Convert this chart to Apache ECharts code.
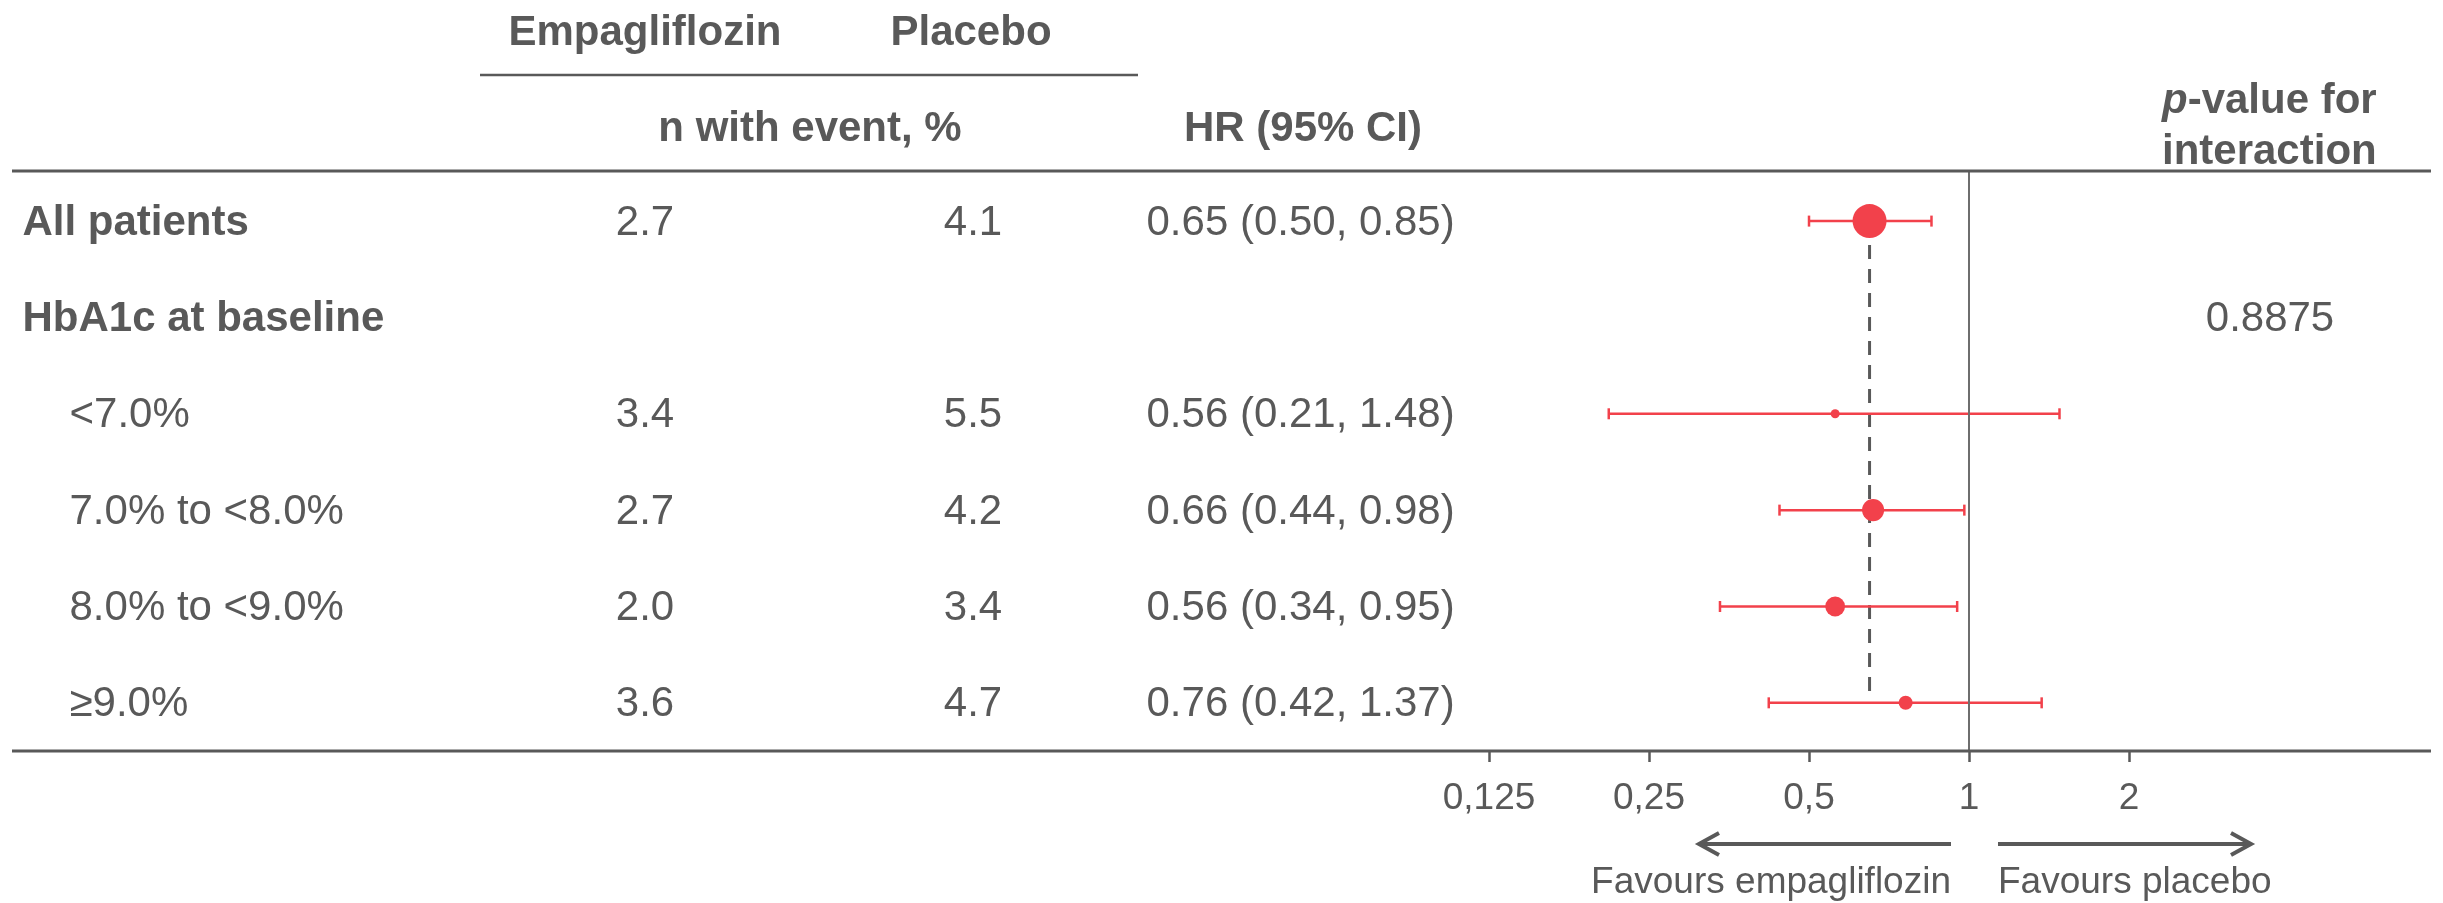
<!DOCTYPE html>
<html>
<head>
<meta charset="utf-8">
<script src="https://cdn.jsdelivr.net/npm/echarts@6/dist/echarts.min.js"></script>
<style>
html,body{margin:0;padding:0;background:#ffffff;}
#c{width:2443px;height:903px;}
</style>
</head>
<body>
<div id="c"></div>
<script>
// ---------------- data ----------------
const rowLabels   = ['All patients', 'HbA1c at baseline', '<7.0%', '7.0% to <8.0%', '8.0% to <9.0%', '\u22659.0%'];
const rowLevel    = [0, 0, 1, 1, 1, 1];          // 0 = heading row, 1 = subgroup row
const empaPct     = [2.7, null, 3.4, 2.7, 2.0, 3.6];
const placeboPct  = [4.1, null, 5.5, 4.2, 3.4, 4.7];
const hr          = [0.65, null, 0.56, 0.66, 0.56, 0.76];
const ciLow       = [0.50, null, 0.21, 0.44, 0.34, 0.42];
const ciHigh      = [0.85, null, 1.48, 0.98, 0.95, 1.37];
const weightPct   = [100, null, 7, 42, 34, 17];   // relative weight (marker area)
const pInteraction = [null, '0.8875', null, null, null, null];
const tickValues  = [0.125, 0.25, 0.5, 1, 2];
const tickLabels  = ['0,125', '0,25', '0,5', '1', '2'];

// ---------------- styles ----------------
const FONT = '"Liberation Sans", Arial, Helvetica, sans-serif';
const GRAY = '#595959';
const RED = '#F2414B';
const TOP = 171;
const PLOT_H = 580;
const Y_MIN = -0.52, Y_MAX = 5.5;
const MAX_MARKER = 34;

const chart = echarts.init(document.getElementById('c'), null, {renderer: 'canvas'});

const rows = rowLabels.map((t, i) => i);
const textCols = [
  {x: 22,   align: 'left',   bold: true,  items: rows.filter(i => rowLevel[i] === 0).map(i => [i, rowLabels[i]])},
  {x: 69,   align: 'left',   bold: false, items: rows.filter(i => rowLevel[i] === 1).map(i => [i, rowLabels[i]])},
  {x: 645,  align: 'center', bold: false, items: rows.filter(i => empaPct[i] != null).map(i => [i, empaPct[i].toFixed(1)])},
  {x: 973,  align: 'center', bold: false, items: rows.filter(i => placeboPct[i] != null).map(i => [i, placeboPct[i].toFixed(1)])},
  {x: 1146, align: 'left',   bold: false, items: rows.filter(i => hr[i] != null).map(i => [i, hr[i].toFixed(2) + ' (' + ciLow[i].toFixed(2) + ', ' + ciHigh[i].toFixed(2) + ')'])},
  {x: 2270, align: 'center', bold: false, items: rows.filter(i => pInteraction[i] != null).map(i => [i, pInteraction[i]])}
];

const grids = [{left: 1489, top: TOP, width: 640, height: PLOT_H}];
const xAxes = [{
  gridIndex: 0, type: 'log', logBase: 2, min: 0.125, max: 2,
  position: 'bottom',
  axisLine: {show: false, onZero: false},
  axisTick: {show: true, length: 11, lineStyle: {color: GRAY, width: 2.5}},
  splitLine: {show: false},
  axisLabel: {
    show: true, showMinLabel: true, showMaxLabel: true,
    fontSize: 37, color: GRAY, fontFamily: FONT, margin: 29,
    formatter: v => {
      const k = tickValues.findIndex(t => Math.abs(Math.log2(t) - Math.log2(v)) < 1e-6);
      return k >= 0 ? tickLabels[k] : '';
    }
  }
}];
const yAxes = [{gridIndex: 0, type: 'value', min: Y_MIN, max: Y_MAX, inverse: true, show: false}];

const series = [];

// dashed reference line at the overall HR
const lastRow = rowLabels.length - 1;
series.push({
  type: 'line', xAxisIndex: 0, yAxisIndex: 0, silent: true, z: 1,
  symbol: 'none', animation: false,
  data: [[hr[0], 0], [hr[0], lastRow - 0.12]],
  lineStyle: {color: GRAY, width: 3, type: [14, 10]}
});

// confidence intervals
series.push({
  type: 'custom', xAxisIndex: 0, yAxisIndex: 0, silent: true, z: 2,
  encode: {x: [1, 2], y: 0},
  data: rows.filter(i => hr[i] != null).map(i => [i, ciLow[i], ciHigh[i]]),
  renderItem: (params, api) => {
    const y = api.value(0);
    const p1 = api.coord([api.value(1), y]);
    const p2 = api.coord([api.value(2), y]);
    const h = 5.5;
    const style = {stroke: RED, lineWidth: 2.5};
    return {type: 'group', children: [
      {type: 'line', shape: {x1: p1[0], y1: p1[1], x2: p2[0], y2: p2[1]}, style: style},
      {type: 'line', shape: {x1: p1[0], y1: p1[1] - h, x2: p1[0], y2: p1[1] + h}, style: style},
      {type: 'line', shape: {x1: p2[0], y1: p2[1] - h, x2: p2[0], y2: p2[1] + h}, style: style}
    ]};
  }
});

// point estimates + line of no effect
series.push({
  type: 'scatter', xAxisIndex: 0, yAxisIndex: 0, silent: true, z: 3,
  data: rows.filter(i => hr[i] != null).map(i => [hr[i], i, weightPct[i]]),
  symbol: 'circle',
  symbolSize: v => MAX_MARKER * Math.sqrt(v[2] / 100),
  itemStyle: {color: RED, opacity: 1},
  markLine: {
    silent: true, symbol: ['none', 'none'], animation: false,
    label: {show: false},
    lineStyle: {color: '#6e6e6e', width: 2, type: 'solid'},
    data: [{xAxis: 1}]
  }
});

// text columns
textCols.forEach((col, k) => {
  const gi = k + 1;
  grids.push({left: col.x, top: TOP, width: 10, height: PLOT_H});
  xAxes.push({gridIndex: gi, type: 'value', min: 0, max: 1, show: false});
  yAxes.push({gridIndex: gi, type: 'value', min: Y_MIN, max: Y_MAX, inverse: true, show: false});
  series.push({
    type: 'scatter', xAxisIndex: gi, yAxisIndex: gi, silent: true,
    symbolSize: 1, itemStyle: {color: 'rgba(0,0,0,0)', opacity: 1},
    data: col.items.map(d => ({value: [0, d[0]], name: d[1]})),
    label: {
      show: true, formatter: p => p.name, opacity: 1,
      position: col.align === 'left' ? 'right' : 'inside', distance: 0,
      align: col.align, verticalAlign: 'middle',
      color: GRAY, fontSize: 42, fontFamily: FONT,
      fontWeight: col.bold ? 'bold' : 'normal',
      offset: [0, 2]
    }
  });
});

function txt(text, x, y, opts) {
  opts = opts || {};
  return {
    type: 'text', x: x, y: y, silent: true, z: 10,
    style: {
      text: text, fill: GRAY,
      font: (opts.bold ? 'bold ' : '') + (opts.size || 42) + 'px ' + FONT,
      align: opts.align || 'center', verticalAlign: 'middle',
      textAlign: opts.align || 'center', textVerticalAlign: 'middle'
    }
  };
}
function hline(x1, x2, y, w) {
  return {type: 'line', silent: true, z: 10, shape: {x1: x1, y1: y, x2: x2, y2: y}, style: {stroke: GRAY, lineWidth: w}};
}

const graphic = [
  hline(480, 1138, 75, 2.5),
  hline(12, 2431, TOP, 3),
  hline(12, 2431, TOP + PLOT_H, 3),
  txt('Empagliflozin', 645, 33, {bold: true}),
  txt('Placebo', 971, 33, {bold: true}),
  txt('n with event, %', 810, 129, {bold: true}),
  txt('HR (95% CI)', 1303, 129, {bold: true}),
  {
    type: 'text', x: 2162, y: 127, silent: true, z: 10,
    style: {
      text: '{i|p}{b|-value for}\n{b|interaction}',
      fill: GRAY, align: 'left', verticalAlign: 'middle',
      textAlign: 'left', textVerticalAlign: 'middle',
      font: 'bold 42px ' + FONT,
      rich: {
        i: {fontStyle: 'italic', fontWeight: 'bold', fontSize: 42, fontFamily: FONT, fill: GRAY, lineHeight: 51},
        b: {fontWeight: 'bold', fontSize: 42, fontFamily: FONT, fill: GRAY, lineHeight: 51}
      }
    }
  },
  // arrows
  {type: 'line', silent: true, shape: {x1: 1951, y1: 844, x2: 1700, y2: 844}, style: {stroke: GRAY, lineWidth: 4}},
  {type: 'polyline', silent: true, shape: {points: [[1719, 833], [1699, 844], [1719, 855]]}, style: {stroke: GRAY, lineWidth: 4, fill: null}},
  {type: 'line', silent: true, shape: {x1: 1998, y1: 844, x2: 2250, y2: 844}, style: {stroke: GRAY, lineWidth: 4}},
  {type: 'polyline', silent: true, shape: {points: [[2231, 833], [2251, 844], [2231, 855]]}, style: {stroke: GRAY, lineWidth: 4, fill: null}},
  txt('Favours empagliflozin', 1951, 883, {size: 37, align: 'right'}),
  txt('Favours placebo', 1998, 883, {size: 37, align: 'left'})
];

chart.setOption({
  backgroundColor: '#ffffff',
  animation: false,
  grid: grids,
  xAxis: xAxes,
  yAxis: yAxes,
  series: series,
  graphic: graphic
});
</script>
</body>
</html>
